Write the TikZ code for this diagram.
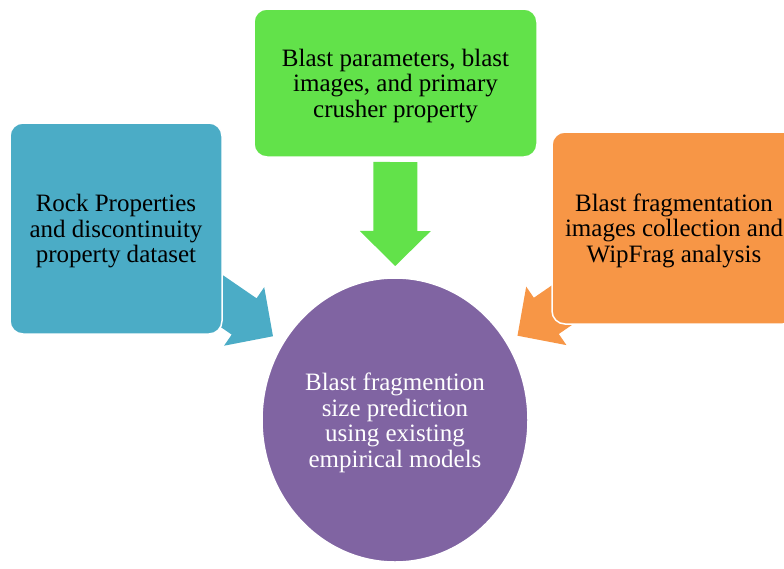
\documentclass[tikz,border=0pt]{standalone}
\usepackage{fontspec}
\setmainfont{Liberation Serif}
\usetikzlibrary{shapes.geometric,calc,backgrounds}
\definecolor{cblue}{HTML}{4BACC6}
\definecolor{cgreen}{HTML}{62E24A}
\definecolor{corange}{HTML}{F79646}
\definecolor{cpurple}{HTML}{8064A2}
\tikzset{
  box/.style={rectangle, rounded corners=13pt, draw=white, line width=1.5pt,
    inner sep=0pt, align=center, font=\fontsize{25}{25.5}\selectfont, text=black,
    text depth=-1pt},
  fatarrow/.pic={\fill[pic actions] (0,0) -- (-35,35.5) -- (-35,22) -- (-104,22)
    -- (-104,-22) -- (-35,-22) -- (-35,-35.5) -- cycle;}
}
\begin{document}
\begin{tikzpicture}[x=1pt,y=-1pt]
\clip (0,0) rectangle (784,568);
\node[box, fill=cblue, minimum width=212pt, minimum height=211pt] (rock) at (116,228.5)
  {Rock Properties\\and discontinuity\\property dataset};
\node[box, fill=cgreen, minimum width=283pt, minimum height=148pt] (param) at (395.5,83)
  {Blast parameters, blast\\images, and primary\\crusher property};
\node[box, fill=corange, minimum width=244pt, minimum height=192pt] (frag) at (674,228)
  {Blast fragmentation\\images collection and\\WipFrag analysis};
\node[ellipse, fill=cpurple, draw=white, line width=1.5pt, minimum width=266pt,
  minimum height=284pt, inner sep=0pt, align=center, text=white, text depth=-1pt,
  font=\fontsize{25}{25.5}\selectfont] (pred) at (395,420)
  {Blast fragmention\\size prediction\\using existing\\empirical models};
\begin{scope}[on background layer]
\foreach \src/\col/\dd in {rock/cblue/148, param/cgreen/154, frag/corange/148.7} {
  \path let \p1=($(pred.center)-(\src.center)$), \n1={atan2(\y1,\x1)} in
    pic[fill=\col, rotate=\n1] at ($(pred.center)!\dd pt!(\src.center)$) {fatarrow};
}
\end{scope}
\end{tikzpicture}
\end{document}
